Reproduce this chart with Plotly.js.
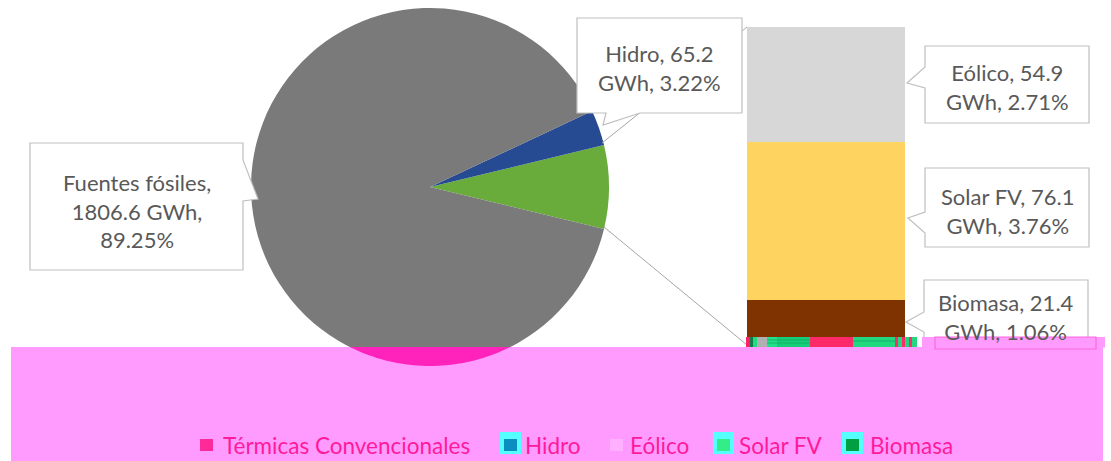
<!DOCTYPE html>
<html>
<head>
<meta charset="utf-8">
<script src="https://cdn.plot.ly/plotly-3.0.1.min.js"></script>
<style>html,body{margin:0;padding:0;background:#fff;}#chart{width:1111px;height:461px;}</style>
</head>
<body>
<div id="chart"></div>
<script>
// ---- data ----
const pieLabels = ['Fuentes fósiles', 'Hidro'];
const pieValues = [1806.6, 65.2];
const pieColors = ['#7a7a7a', '#264b93'];
const otherColor = '#69ac3c';

const barLabels = ['Biomasa', 'Solar FV', 'Eólico'];
const barValues = [21.4, 76.1, 54.9];
const barColors = ['#7f3300', '#fed35f', '#d7d7d7'];

const legendLabels = ['Térmicas Convencionales', 'Hidro', 'Eólico', 'Solar FV', 'Biomasa'];
const legendColors = ['#ff2a9a', '#0b8fc0', '#ffb0ff', '#33ee88', '#00a040'];
const legendBorder = [false, true, false, true, true];

// ---- derived ----
const otherTotal = barValues.reduce((a, b) => a + b, 0);
const grandTotal = pieValues.reduce((a, b) => a + b, 0) + otherTotal;
const pct = v => (100 * v / grandTotal).toFixed(2) + '%';

const W = 1111, H = 461;
const px = x => x / W, py = y => 1 - y / H;

// pie geometry (pixels)
const cx = 430, cy = 187, R = 179;
const otherFrac = otherTotal / grandTotal;

const traces = [];
traces.push({
  type: 'pie',
  values: [otherTotal, pieValues[1], pieValues[0]],
  labels: ['Otras', pieLabels[1], pieLabels[0]],
  marker: {colors: [otherColor, pieColors[1], pieColors[0]], line: {width: 0}},
  sort: false,
  direction: 'counterclockwise',
  rotation: 90 - otherFrac * 180,
  textinfo: 'none',
  hoverinfo: 'label+value+percent',
  showlegend: false,
  domain: {x: [px(cx - R), px(cx + R)], y: [py(cy + R), py(cy - R)]}
});
barLabels.forEach((lab, i) => {
  traces.push({
    type: 'bar', x: [0], y: [barValues[i]], width: [1], name: lab,
    marker: {color: barColors[i], line: {width: 0}},
    xaxis: 'x', yaxis: 'y', showlegend: false, hoverinfo: 'name+y'
  });
});
traces.push({type: 'scatter', x: [], y: [], xaxis: 'x2', yaxis: 'y2', showlegend: false, hoverinfo: 'skip'});

const shapes = [];
const S = (o) => Object.assign({xref: 'x2', yref: 'y2', layer: 'above'}, o);
const poly = pts => 'M' + pts.map(p => p[0] + ',' + p[1]).join(' L') + ' Z';

// connector lines
shapes.push(S({type: 'line', x0: 602, y0: 143, x1: 747, y1: 27, line: {color: '#a6a6a6', width: 1}}));
shapes.push(S({type: 'line', x0: 604, y0: 227, x1: 747, y1: 345, line: {color: '#a6a6a6', width: 1}}));

// callout boxes
const boxLine = {color: '#bfbfbf', width: 1.2};
const callouts = [
  [[30,143],[243,143],[243,160],[258,199],[243,201],[243,270],[30,270]],
  [[577,18],[742,18],[742,113],[640,113],[603,125],[606,113],[577,113]],
  [[925,46],[1089,46],[1089,123],[925,123],[925,88],[907,83],[925,67]],
  [[925,168],[1089,168],[1089,247],[925,247],[925,233],[908,218],[925,212]],
  [[924,280],[1088,280],[1088,349],[924,349],[924,332],[906,322],[924,312]]
];
callouts.forEach(c => shapes.push(S({type: 'path', path: poly(c), fillcolor: '#ffffff', line: boxLine})));

// magenta band
shapes.push(S({type: 'rect', x0: 11, y0: 347, x1: 1103, y1: 461, fillcolor: '#ff9bff', line: {width: 0}}));
shapes.push(S({type: 'rect', x0: 922, y0: 337, x1: 1105, y1: 347.5, fillcolor: '#ff9bff', line: {width: 0}}));
shapes.push(S({type: 'rect', x0: 935, y0: 337, x1: 1096, y1: 349, fillcolor: 'rgba(0,0,0,0)', line: {color: '#ff66e0', width: 1.2}}));

// pink bottom of pie inside band
const yCut = 347;
const t0 = Math.asin((yCut - cy) / R);
const seg = [];
for (let k = 0; k <= 40; k++) {
  const t = t0 + (Math.PI - 2 * t0) * k / 40;
  seg.push([(cx + R * Math.cos(t)).toFixed(1), (cy + R * Math.sin(t)).toFixed(1)]);
}
shapes.push(S({type: 'path', path: poly(seg), fillcolor: '#ff22bb', line: {width: 0}}));

// glitch stripes at base of bar
const stripes = [
  [746, 750, '#ff2266'], [750, 753, '#137a4e'], [753, 757, '#1fdc7e'], [757, 767, '#b0b0b0'],
  [767, 777, '#22e08a'], [777, 810, '#14cf78'], [810, 853, '#ff2a6a'], [853, 895, '#1fd880'],
  [895, 898, '#ff2a6a'], [898, 902, '#1fd880'], [902, 905, '#ff2a6a'], [905, 909, '#1fd880'],
  [909, 912, '#ff2a6a'], [912, 917, '#1fd880']
];
stripes.forEach(s => shapes.push(S({type: 'rect', x0: s[0], x1: s[1], y0: 337, y1: 347, fillcolor: s[2], line: {width: 0}})));
[340, 343].forEach(y => shapes.push(S({type: 'line', x0: 767, x1: 810, y0: y, y1: y, line: {color: '#0fa863', width: 0.8}})));
shapes.push(S({type: 'line', x0: 853, x1: 895, y0: 341, y1: 341, line: {color: '#0fa863', width: 0.8}}));

// legend markers
const legX = [200, 504, 610, 717, 846];
const legTextX = [221, 523, 628, 737, 868];
legendLabels.forEach((lab, i) => {
  if (legendBorder[i]) {
    shapes.push(S({type: 'rect', x0: legX[i] - 4, x1: legX[i] + 17, y0: 432, y1: 454, fillcolor: '#55ffff', line: {width: 0}}));
  }
  shapes.push(S({type: 'rect', x0: legX[i], x1: legX[i] + 13, y0: 439, y1: 451, fillcolor: legendColors[i], line: {width: 0}}));
});

// annotations
const labFont = {family: 'Lato, sans-serif', size: 22, color: '#595959'};
const A = (x, y, text, extra) => Object.assign({xref: 'x2', yref: 'y2', x: x, y: y, text: text, showarrow: false,
  xanchor: 'center', yanchor: 'middle', font: labFont, align: 'center'}, extra || {});
const annotations = [
  A(136.5, 211, pieLabels[0] + ',<br>' + pieValues[0].toFixed(1) + ' GWh,<br>' + pct(pieValues[0])),
  A(659, 67.5, pieLabels[1] + ', ' + pieValues[1].toFixed(1) + '<br>GWh, ' + pct(pieValues[1])),
  A(1007, 87, barLabels[2] + ', ' + barValues[2].toFixed(1) + '<br>GWh, ' + pct(barValues[2])),
  A(1007, 211, barLabels[1] + ', ' + barValues[1].toFixed(1) + '<br>GWh, ' + pct(barValues[1])),
  A(1006, 317, barLabels[0] + ', ' + barValues[0].toFixed(1) + '<br>GWh, ' + pct(barValues[0]))
];
legendLabels.forEach((lab, i) => {
  annotations.push(A(legTextX[i], 445, lab, {xanchor: 'left', font: {family: 'Lato, sans-serif', size: 22.5, color: '#ff1a9a'}}));
});

const layout = {
  width: W, height: H,
  margin: {l: 0, r: 0, t: 0, b: 0, pad: 0},
  paper_bgcolor: '#ffffff', plot_bgcolor: 'rgba(0,0,0,0)',
  showlegend: false, barmode: 'stack', bargap: 0,
  xaxis: {domain: [px(747), px(905)], range: [-0.5, 0.5], visible: false, fixedrange: true},
  yaxis: {domain: [py(345), py(27)], range: [0, otherTotal], visible: false, fixedrange: true},
  xaxis2: {domain: [0, 1], range: [0, W], visible: false, anchor: 'y2', fixedrange: true},
  yaxis2: {domain: [0, 1], range: [H, 0], visible: false, anchor: 'x2', fixedrange: true},
  shapes: shapes,
  annotations: annotations
};

Plotly.newPlot('chart', traces, layout, {displayModeBar: false, staticPlot: true});
</script>
</body>
</html>
